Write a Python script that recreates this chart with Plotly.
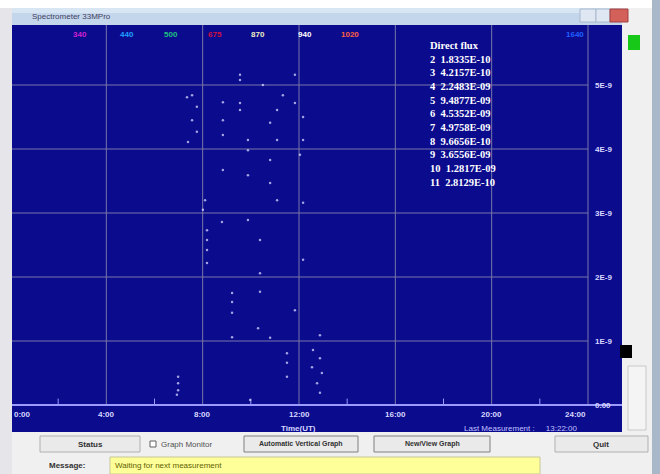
import plotly.graph_objects as go

# ---------------- data ----------------
hour_ticks = [0, 4, 8, 12, 16, 20, 24]
hour_labels = ["0:00", "4:00", "8:00", "12:00", "16:00", "20:00", "24:00"]
minor_hours = [2, 6, 10, 14, 18, 22]
level_ticks = [0, 1, 2, 3, 4, 5]
level_labels = ["0.00", "1E-9", "2E-9", "3E-9", "4E-9", "5E-9"]

channel_names = ["340", "440", "500", "675", "870", "940", "1020", "1640"]
channel_colors = ["#d020d0", "#20a0ff", "#20c080", "#d01040", "#f0f0c0", "#ffffff", "#ff6040", "#2060ff"]
channel_hours = [2.9, 4.85, 6.7, 8.5, 10.3, 12.25, 14.1, 23.45]

flux_channels = ["2", "3", "4", "5", "6", "7", "8", "9", "10", "11"]
flux_values = ["1.8335E-10", "4.2157E-10", "2.2483E-09", "9.4877E-09", "4.5352E-09",
               "4.9758E-09", "9.6656E-10", "3.6556E-09", "1.2817E-09", "2.8129E-10"]

obs_time = [9.55, 9.55, 9.55, 9.55, 8.84, 8.84, 8.84, 8.84, 7.76, 7.39, 7.76, 7.35,
            9.88, 9.88, 9.88, 9.88, 11.09, 10.80, 11.09, 10.80, 10.80, 11.09,
            11.83, 11.83, 12.17, 12.17, 12.17, 8.01, 8.80, 8.18,
            10.38, 10.38, 10.38, 10.30, 9.22, 9.22, 9.22, 9.22, 8.18, 8.18, 8.18,
            10.80, 9.97, 6.98, 6.98, 6.98, 11.50, 11.50, 11.50,
            12.58, 12.87, 12.54, 12.95, 12.75, 12.87, 11.83,
            7.56, 7.56, 8.10, 12.04, 12.17, 12.87, 6.93, 10.50, 11.33]
obs_value = [5.16, 5.08, 4.72, 4.61, 4.73, 4.45, 4.22, 3.67, 4.27, 4.11, 4.66, 4.81,
             4.14, 3.98, 3.59, 2.89, 4.14, 3.83, 4.61, 4.41, 3.47, 3.20,
             5.16, 4.72, 4.50, 4.14, 3.16, 3.05, 2.86, 2.73,
             2.58, 2.06, 1.77, 1.20, 1.75, 1.61, 1.44, 1.06, 2.58, 2.42, 2.22,
             1.05, 0.08, 0.44, 0.34, 0.23, 0.81, 0.66, 0.44,
             0.86, 0.73, 0.59, 0.50, 0.34, 0.19, 1.48,
             4.84, 4.45, 3.20, 3.91, 2.27, 1.09, 0.16, 5.00, 4.84]

# ---------------- geometry ----------------
W, H = 660, 474
PX0, PX1, PY0, PY1 = 12, 622, 25, 432   # blue plot rectangle in pixels
X_RANGE = [(PX0 - 10) / 578 * 24, (PX1 - 10) / 578 * 24]
Y_RANGE = [-(PY1 - 405) / 64, (405 - PY0) / 64]
BLUE = "#0b0b8e"
GRID = "#7878a8"
AXIS = "#9a9aff"

fig = go.Figure()

# grid lines
gx, gy = [], []
for t in hour_ticks[1:]:
    gx += [t, t, None]
    gy += [0, Y_RANGE[1], None]
fig.add_trace(go.Scatter(x=gx, y=gy, mode="lines", line=dict(color=GRID, width=1),
                         hoverinfo="skip", showlegend=False))
hx, hy = [], []
for v in level_ticks[1:]:
    hx += [X_RANGE[0], 24, None]
    hy += [v, v, None]
fig.add_trace(go.Scatter(x=hx, y=hy, mode="lines", line=dict(color=GRID, width=1),
                         hoverinfo="skip", showlegend=False))
# baseline
fig.add_trace(go.Scatter(x=[X_RANGE[0], X_RANGE[1]], y=[0, 0], mode="lines",
                         line=dict(color=AXIS, width=2), hoverinfo="skip", showlegend=False))
# minor ticks
mx, my = [], []
for t in minor_hours:
    mx += [t, t, None]
    my += [0, 0.1, None]
fig.add_trace(go.Scatter(x=mx, y=my, mode="lines", line=dict(color=AXIS, width=1),
                         hoverinfo="skip", showlegend=False))

# observations
fig.add_trace(go.Scatter(x=obs_time, y=obs_value, mode="markers",
                         marker=dict(size=2.5, color="rgba(215,215,255,0.75)", line=dict(width=0)),
                         showlegend=False))

# x tick labels
for t, lab in zip(hour_ticks, hour_labels):
    anchor = "left" if t == 0 else ("right" if t == 24 else "center")
    fig.add_annotation(x=max(t, X_RANGE[0]), y=0, xref="x", yref="y", text="<b>" + lab + "</b>",
                       showarrow=False, xanchor=anchor, yanchor="top", yshift=-3,
                       font=dict(family="Liberation Sans", size=8, color="#d8d8ff"))
# right labels
for v, lab in zip(level_ticks, level_labels):
    fig.add_annotation(x=24.2, y=v, xref="x", yref="y", text="<b>" + lab + "</b>", showarrow=False,
                       xanchor="left", yanchor="middle",
                       font=dict(family="Liberation Sans", size=8, color="#d8d8ff"))
# channel labels
for name, col, t in zip(channel_names, channel_colors, channel_hours):
    fig.add_annotation(x=t, y=Y_RANGE[1], xref="x", yref="y", text="<b>" + name + "</b>",
                       showarrow=False, xanchor="center", yanchor="top", yshift=-3,
                       font=dict(family="Liberation Sans", size=8, color=col))

# direct flux box
lines = ["<b>Direct flux</b>"] + ["<b>%s  %s</b>" % (c, v) for c, v in zip(flux_channels, flux_values)]
fig.add_annotation(x=428 / W, y=1 - 38 / H, xref="paper", yref="paper",
                   text="<br>".join(lines), showarrow=False, align="left",
                   xanchor="left", yanchor="top",
                   font=dict(family="Liberation Serif", size=10.5, color="#ffffff"))

# axis titles
fig.add_annotation(x=298 / W, y=1 - 428 / H, xref="paper", yref="paper", text="<b>Time(UT)</b>",
                   showarrow=False, xanchor="center", yanchor="middle",
                   font=dict(family="Liberation Sans", size=8, color="#d8d8ff"))
fig.add_annotation(x=580 / W, y=1 - 428 / H, xref="paper", yref="paper",
                   text="Last Measurement :     13:22:00",
                   showarrow=False, xanchor="right", yanchor="middle",
                   font=dict(family="Liberation Sans", size=8, color="#c0c0ff"))

shapes = []
def rect(x0, y0, x1, y1, fill, line=None, lw=0, layer="below"):
    shapes.append(dict(type="rect", xref="paper", yref="paper", x0=x0 / W, x1=x1 / W,
                       y0=1 - y1 / H, y1=1 - y0 / H, fillcolor=fill,
                       line=dict(color=line or fill, width=lw), layer=layer))

# window chrome
rect(0, 0, 660, 8, "#ffffff")
rect(0, 8, 12, 474, "#e6e6ea")
rect(12, 8, 622, 25, "#c4d6ec")
rect(12, 8, 622, 13, "#d8e6f4")
rect(580, 9, 596, 22, "#dfe8f2", "#a8b8cc", 1)
rect(596, 9, 610, 22, "#dfe8f2", "#a8b8cc", 1)
rect(610, 9, 628, 22, "#d4605a", "#a04040", 1)
rect(652, 0, 660, 474, "#a8b8c8")
rect(628, 35, 640, 50, "#18c818")
rect(620, 345, 632, 358, "#000000")
rect(628, 366, 646, 430, "#f4f4f4", "#c8c8c8", 1)
# buttons
rect(40, 436, 140, 452, "#eaeaea", "#b0b0b0", 1)
rect(244, 436, 358, 452, "#eaeaea", "#808080", 1)
rect(374, 436, 490, 452, "#eaeaea", "#808080", 1)
rect(555, 436, 648, 452, "#eaeaea", "#b0b0b0", 1)
rect(150, 441, 156, 447, "#ffffff", "#606060", 1)
rect(110, 457, 540, 474, "#ffff99", "#c8c898", 1)

fig.update_layout(shapes=shapes)

def txt(x, y, s, size=8, color="#303030", anchor="center", bold=False):
    fig.add_annotation(x=x / W, y=1 - y / H, xref="paper", yref="paper",
                       text=("<b>%s</b>" % s) if bold else s, showarrow=False,
                       xanchor=anchor, yanchor="middle",
                       font=dict(family="Liberation Sans", size=size, color=color))

txt(30, 16, "Spectrometer 33MPro", size=8, color="#404060", anchor="left")
txt(90, 444, "Status", bold=True)
txt(159, 444, "Graph Monitor", anchor="left", color="#505050")
txt(301, 444, "Automatic Vertical Graph", bold=True, size=7)
txt(432, 444, "New/View Graph", bold=True, size=7)
txt(601, 444, "Quit", bold=True)
txt(67, 465, "Message:", bold=True)
txt(113, 465, "Waiting for next measurement", anchor="left", color="#606000")

fig.update_layout(
    width=W, height=H,
    margin=dict(l=0, r=0, t=0, b=0, pad=0),
    paper_bgcolor="#f0f0f0", plot_bgcolor=BLUE,
    xaxis=dict(domain=[PX0 / W, PX1 / W], range=X_RANGE, showgrid=False, zeroline=False,
               showticklabels=False, ticks="", fixedrange=True),
    yaxis=dict(domain=[1 - PY1 / H, 1 - PY0 / H], range=Y_RANGE, showgrid=False, zeroline=False,
               showticklabels=False, ticks="", fixedrange=True),
    showlegend=False,
)

fig.write_html("out.html", config={"displayModeBar": False},
               post_script="document.body.style.margin='0';document.body.style.overflow='hidden';")
